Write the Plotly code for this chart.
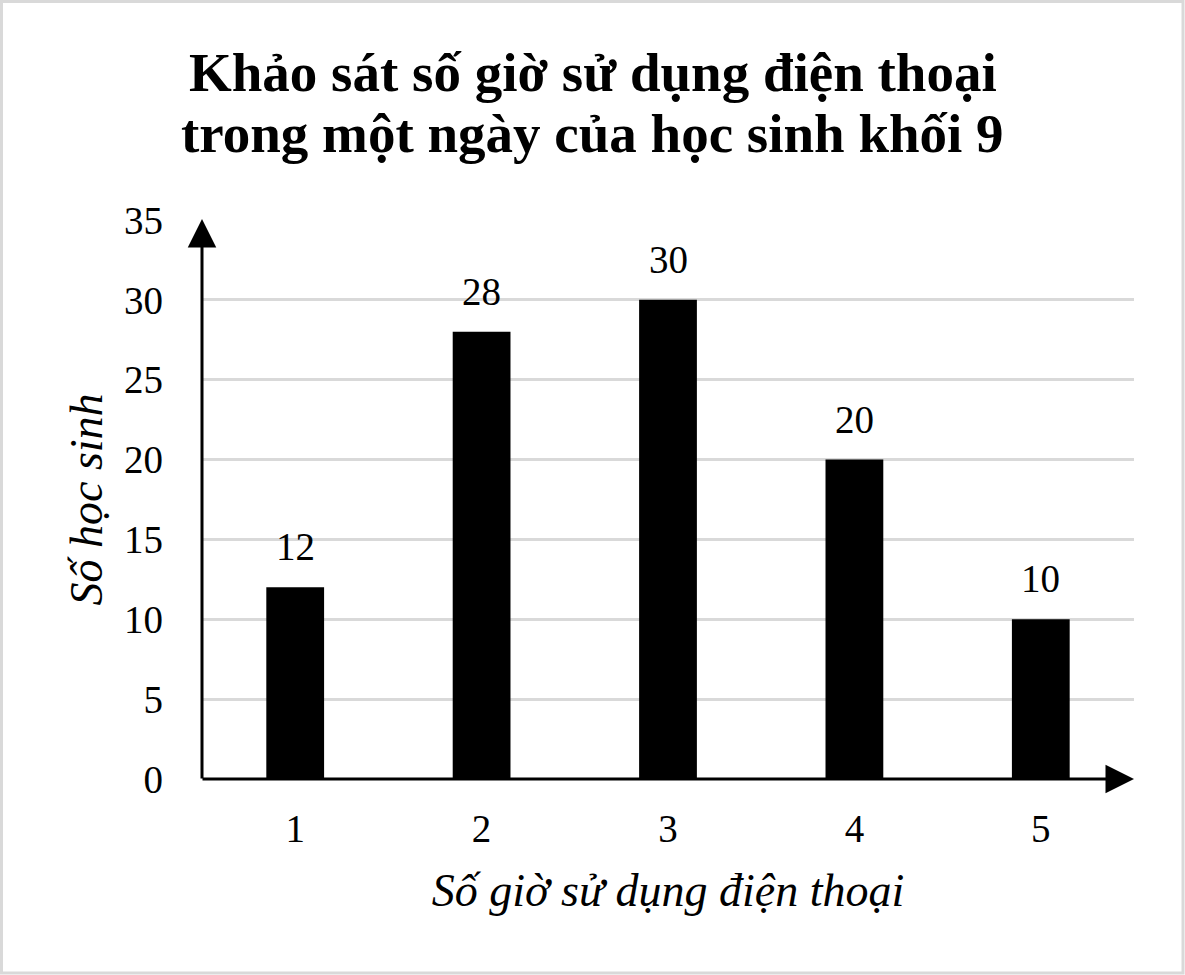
import plotly.graph_objects as go

categories = ["1", "2", "3", "4", "5"]
values = [12, 28, 30, 20, 10]
y_ticks = [0, 5, 10, 15, 20, 25, 30, 35]
title_lines = ["Khảo sát số giờ sử dụng điện thoại", "trong một ngày của học sinh khối 9"]

W, H = 1185, 975
L, R, T, B = 202, 51, 220, 196
pw, ph = W - L - R, H - T - B

def px_x(p):
    return (p - L) / pw

def px_y(p):
    return (H - B - p) / ph

serif = "Liberation Serif, Times New Roman, serif"

fig = go.Figure()
fig.add_trace(go.Bar(
    x=categories, y=values,
    marker=dict(color="black", line=dict(width=0)),
    width=0.31,
    cliponaxis=False,
    hoverinfo="skip",
))

annotations = []
for i, v in enumerate(values):
    annotations.append(dict(
        x=i, y=v, xref="x", yref="y", text=str(v), showarrow=False,
        yanchor="bottom", yshift=17,
        font=dict(family=serif, size=39, color="black"),
    ))

for i, line in enumerate(title_lines):
    annotations.append(dict(
        xref="paper", yref="paper", x=px_x(W / 2), y=px_y([72, 133][i]),
        xanchor="center", yanchor="middle", text=f"<b>{line}</b>", showarrow=False,
        font=dict(family=serif, size=55, color="black"),
    ))

annotations += [
    dict(xref="paper", yref="paper", x=0, y=px_y(219), ax=0, ay=561,
         axref="pixel", ayref="pixel", showarrow=True, arrowhead=2,
         arrowsize=1.9, arrowwidth=3, arrowcolor="black", text="", standoff=0),
    dict(xref="paper", yref="paper", x=px_x(1134), y=0, ax=-933, ay=0,
         axref="pixel", ayref="pixel", showarrow=True, arrowhead=2,
         arrowsize=1.9, arrowwidth=3, arrowcolor="black", text="", standoff=0),
]

fig.update_layout(
    width=W, height=H,
    margin=dict(l=L, r=R, t=T, b=B),
    paper_bgcolor="white", plot_bgcolor="white",
    showlegend=False,
    xaxis=dict(
        type="category", range=[-0.5, len(categories) - 0.5],
        showgrid=False, showline=False, zeroline=False,
        ticks="", tickfont=dict(family=serif, size=39, color="black"),
        ticklabelstandoff=23,
        title=dict(text="<i>Số giờ sử dụng điện thoại</i>",
                   font=dict(family=serif, size=46, color="black"), standoff=24),
    ),
    yaxis=dict(
        range=[0, 35], tickvals=y_ticks,
        showgrid=True, gridcolor="#d9d9d9", gridwidth=2.5,
        showline=False, zeroline=False,
        ticks="", tickfont=dict(family=serif, size=39, color="black"),
        ticklabelstandoff=38,
        title=dict(text="<i>Số học sinh</i>",
                   font=dict(family=serif, size=46, color="black"), standoff=6),
    ),
    shapes=[
        dict(type="rect", xref="paper", yref="paper",
             x0=px_x(1.5), x1=px_x(W - 2), y0=px_y(H - 2), y1=px_y(1.5),
             line=dict(color="#d9d9d9", width=3), fillcolor="rgba(0,0,0,0)", layer="below"),
    ],
    annotations=annotations,
)

fig.write_html("out.html", config={"displayModeBar": False},
               post_script="document.body.style.margin='0px';")
